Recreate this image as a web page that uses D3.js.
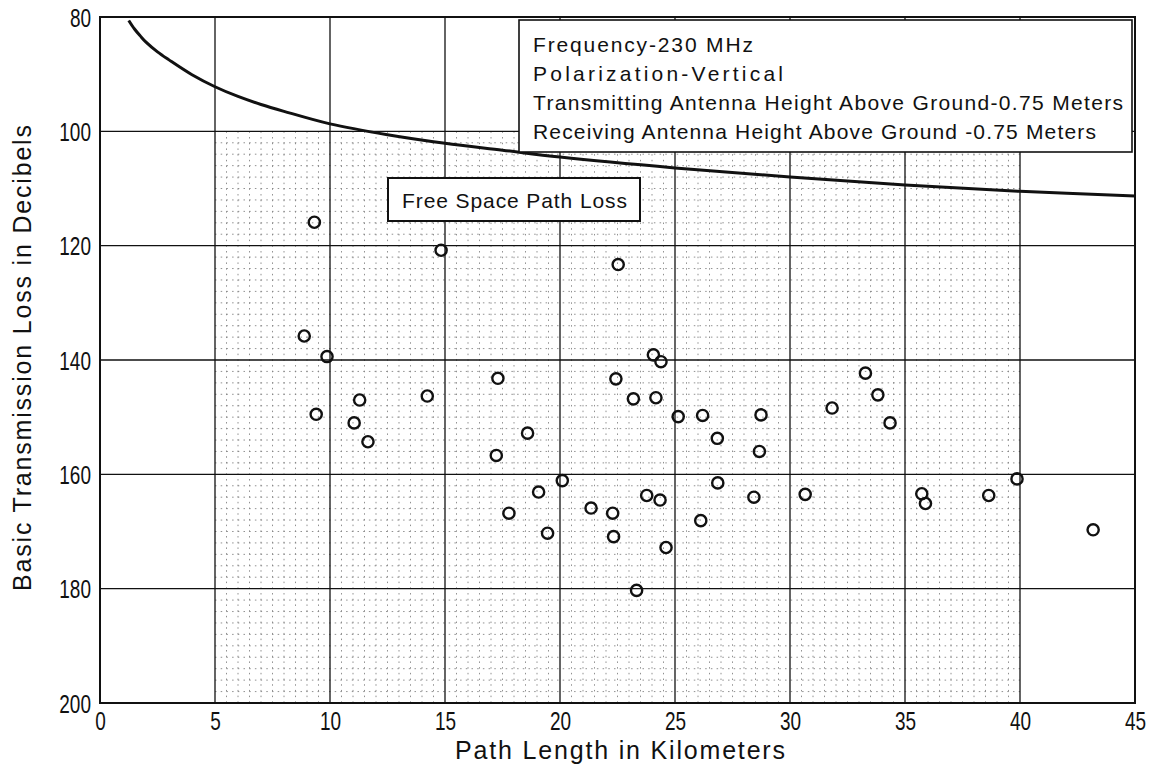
<!DOCTYPE html>
<html>
<head>
<meta charset="utf-8">
<script src="https://cdn.jsdelivr.net/npm/d3@7"></script>
<style>
  html, body { margin: 0; padding: 0; background: #fff; }
  svg { display: block; }
  text { font-family: "Liberation Sans", Arial, sans-serif; fill: #111; }
</style>
</head>
<body>
<svg id="chart" width="1156" height="767"></svg>
<script>
// ---------- data ----------
const xTicks = [0, 5, 10, 15, 20, 25, 30, 35, 40, 45];
const yTicks = [80, 100, 120, 140, 160, 180, 200];

// measured path lengths (km) and basic transmission loss (dB)
const pathKm = [9.32, 14.83, 8.88, 9.87, 9.40, 11.29, 11.05, 11.65, 14.23, 17.30, 17.23,
  22.53, 24.06, 24.39, 22.43, 23.19, 24.17, 25.14, 26.20, 28.74, 26.84, 28.67,
  18.59, 20.10, 19.07, 17.78, 19.46, 21.35, 22.29, 22.33, 23.77, 24.35, 24.61,
  23.33, 26.12, 26.86, 28.43, 30.66, 33.28, 33.82, 31.83, 34.35, 35.73, 35.89,
  38.64, 39.87, 43.18];
const lossDb = [115.9, 120.8, 135.8, 139.4, 149.5, 147.0, 151.0, 154.3, 146.3, 143.2, 156.7,
  123.3, 139.1, 140.3, 143.3, 146.8, 146.6, 149.9, 149.7, 149.6, 153.7, 156.0,
  152.8, 161.1, 163.1, 166.8, 170.3, 165.9, 166.8, 170.9, 163.7, 164.5, 172.8,
  180.3, 168.1, 161.5, 164.0, 163.5, 142.3, 146.1, 148.4, 151.0, 163.4, 165.1,
  163.7, 160.8, 169.7];

// free space path loss curve
const curveKm = [1.25, 1.5, 1.75, 2, 2.5, 3, 4, 5, 6, 7, 8, 10, 12.5, 15, 17.5, 20, 25, 30, 35, 40, 45];
const curveDb = [80.6, 82.1, 83.3, 84.4, 86.1, 87.5, 90.1, 92.2, 93.9, 95.3, 96.5, 98.7,
  100.6, 102.1, 103.3, 104.5, 106.4, 108.0, 109.4, 110.5, 111.3];

const infoLines = [
  "Frequency-230 MHz",
  "Polarization-Vertical",
  "Transmitting Antenna Height Above Ground-0.75 Meters",
  "Receiving Antenna Height Above Ground -0.75 Meters"
];
const curveLabel = "Free Space Path Loss";
const xTitle = "Path Length in Kilometers";
const yTitle = "Basic Transmission Loss in Decibels";

// ---------- layout ----------
const W = 1156, H = 767;
const m = { left: 100, right: 21, top: 17, bottom: 64 };
const svg = d3.select("#chart");
const x = d3.scaleLinear().domain([0, 45]).range([m.left, W - m.right]);
const y = d3.scaleLinear().domain([80, 200]).range([m.top, H - m.bottom]);

// minor (dotted) graph-paper grid
const minor = svg.append("g").attr("stroke", "#222").attr("stroke-width", 0.9)
  .attr("stroke-dasharray", "1.5,4.2").attr("opacity", 0.55);
d3.range(5.5, 40, 0.5).filter(v => v % 5 !== 0).forEach(v => {
  minor.append("line").attr("x1", x(v)).attr("x2", x(v)).attr("y1", y(100)).attr("y2", y(200));
});
d3.range(102, 200, 2).filter(v => v % 20 !== 0).forEach(v => {
  minor.append("line").attr("x1", x(5)).attr("x2", x(40)).attr("y1", y(v)).attr("y2", y(v));
});

// major grid
const grid = svg.append("g").attr("stroke", "#111").attr("stroke-width", 1.3);
xTicks.slice(1, -1).forEach(v => {
  grid.append("line").attr("x1", x(v)).attr("x2", x(v)).attr("y1", y(80)).attr("y2", y(200));
});
yTicks.slice(1, -1).forEach(v => {
  grid.append("line").attr("x1", x(0)).attr("x2", x(45)).attr("y1", y(v)).attr("y2", y(v));
});

// frame
svg.append("rect").attr("x", x(0)).attr("y", y(80))
  .attr("width", x(45) - x(0)).attr("height", y(200) - y(80))
  .attr("fill", "none").attr("stroke", "#111").attr("stroke-width", 2);

// axes (labels only)
const tickFont = "25px";
const sx = 0.76;
const yAxis = svg.append("g").attr("transform", `translate(${x(0)},0)`)
  .call(d3.axisLeft(y).tickValues(yTicks).tickSize(0).tickFormat(d3.format("d")));
yAxis.select(".domain").remove();
yAxis.selectAll("text").attr("x", -9 / sx).attr("dy", "0.36em")
  .attr("transform", `scale(${sx},1)`)
  .style("font-size", tickFont).style("font-family", "'Liberation Sans', Arial, sans-serif").attr("fill", "#111");

const xAxis = svg.append("g").attr("transform", `translate(0,${y(200)})`)
  .call(d3.axisBottom(x).tickValues(xTicks).tickSize(0).tickFormat(d3.format("d")));
xAxis.select(".domain").remove();
xAxis.selectAll("text").attr("x", 0).attr("y", 27).attr("dy", "0")
  .attr("transform", `scale(${sx},1)`)
  .style("font-size", tickFont).style("font-family", "'Liberation Sans', Arial, sans-serif").attr("fill", "#111");

// free space curve
const line = d3.line().x((d, i) => x(curveKm[i])).y((d, i) => y(curveDb[i])).curve(d3.curveCatmullRom.alpha(0.5));
svg.append("path").datum(curveKm).attr("d", line)
  .attr("fill", "none").attr("stroke", "#111").attr("stroke-width", 3);

// data points
svg.append("g").selectAll("circle").data(pathKm).join("circle")
  .attr("cx", (d) => x(d)).attr("cy", (d, i) => y(lossDb[i]))
  .attr("r", 5.6).attr("fill", "none").attr("stroke", "#111").attr("stroke-width", 2.4);

// info box
svg.append("rect").attr("x", 519).attr("y", 20).attr("width", 613).attr("height", 132)
  .attr("fill", "#fff").attr("stroke", "#111").attr("stroke-width", 1.6);
const infoLens = [220, 250, 590, 563];
svg.append("g").selectAll("text").data(infoLines).join("text")
  .attr("x", 533).attr("y", (d, i) => 52 + i * 29)
  .attr("textLength", (d, i) => infoLens[i]).attr("lengthAdjust", "spacing")
  .style("font-size", "21px").text(d => d);

// curve label box
svg.append("rect").attr("x", 388).attr("y", 178).attr("width", 252).attr("height", 43)
  .attr("fill", "#fff").attr("stroke", "#111").attr("stroke-width", 2);
svg.append("text").attr("x", 402).attr("y", 208)
  .attr("textLength", 225).attr("lengthAdjust", "spacing")
  .style("font-size", "21px").text(curveLabel);

// axis titles
svg.append("text").attr("x", 620).attr("y", 759).attr("text-anchor", "middle")
  .attr("textLength", 330).attr("lengthAdjust", "spacing")
  .style("font-size", "25px").text(xTitle);
svg.append("text").attr("transform", "translate(31,358) rotate(-90)").attr("text-anchor", "middle")
  .attr("textLength", 466).attr("lengthAdjust", "spacing")
  .style("font-size", "25px").text(yTitle);
</script>
</body>
</html>
